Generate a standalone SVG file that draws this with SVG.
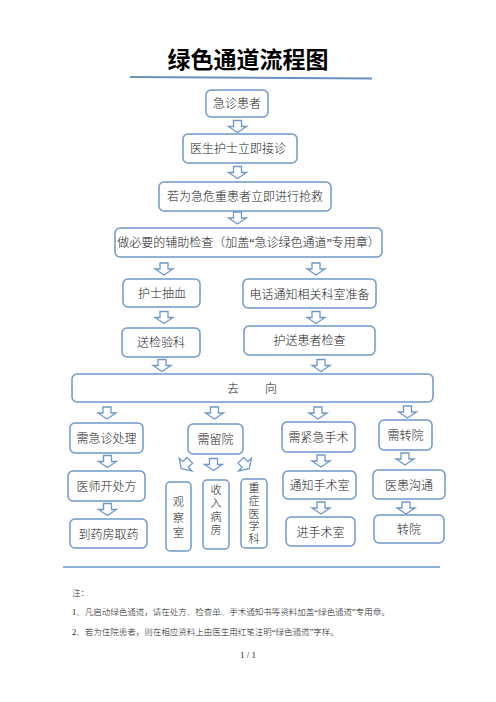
<svg xmlns="http://www.w3.org/2000/svg" xmlns:xlink="http://www.w3.org/1999/xlink" width="496" height="702" viewBox="0 0 496 702">
<style>
.bx{fill:#fff;stroke:#6f98c9;stroke-width:1.5}
.ar{fill:#fff;stroke:#6f98c9;stroke-width:1.3;stroke-linejoin:miter}
.t{font-family:"Liberation Serif","Noto Sans CJK SC",serif;font-size:12px;font-weight:300;fill:#222;text-anchor:middle;dominant-baseline:central}
.v{font-family:"Liberation Serif","Noto Sans CJK SC",serif;font-size:11px;font-weight:300;fill:#222;text-anchor:middle;dominant-baseline:central}
.n{font-family:"Liberation Serif","Noto Sans CJK SC",serif;font-size:8.5px;font-weight:300;fill:#222}
</style>
<defs>
<path id="ar" d="M-4,-6 H4 V0 H9 L0,6 L-9,0 H-4 Z"/>
</defs>
<rect width="496" height="702" fill="#fff"/>
<g id="title">
<text x="248" y="58" style="font-family:'Noto Sans CJK SC',sans-serif;font-size:23px;font-weight:bold;fill:#000;text-anchor:middle;dominant-baseline:central">绿色通道流程图</text>
<line x1="130" y1="77" x2="372" y2="78.5" stroke="#6b91c2" stroke-width="2"/>
</g>
<g id="connectors">
<use href="#ar" class="ar" transform="translate(237.5,126.5)"/>
<use href="#ar" class="ar" transform="translate(237.5,172.5)"/>
<use href="#ar" class="ar" transform="translate(237.5,218)"/>
<use href="#ar" class="ar" transform="translate(164,269)"/>
<use href="#ar" class="ar" transform="translate(316,269)"/>
<use href="#ar" class="ar" transform="translate(164,317.5)"/>
<use href="#ar" class="ar" transform="translate(316,317.5)"/>
<use href="#ar" class="ar" transform="translate(162,365.5)"/>
<use href="#ar" class="ar" transform="translate(321,365.5)"/>
<use href="#ar" class="ar" transform="translate(107,413)"/>
<use href="#ar" class="ar" transform="translate(214.5,413)"/>
<use href="#ar" class="ar" transform="translate(318,413)"/>
<use href="#ar" class="ar" transform="translate(407.5,412)"/>
<use href="#ar" class="ar" transform="translate(107.5,461.5)"/>
<use href="#ar" class="ar" transform="translate(107.5,509.5)"/>
<use href="#ar" class="ar" transform="translate(185.5,464.5) rotate(45)"/>
<use href="#ar" class="ar" transform="translate(213.5,464.5)"/>
<use href="#ar" class="ar" transform="translate(245,464.5) rotate(-45)"/>
<use href="#ar" class="ar" transform="translate(321,461)"/>
<use href="#ar" class="ar" transform="translate(321,508)"/>
<use href="#ar" class="ar" transform="translate(405,459)"/>
<use href="#ar" class="ar" transform="translate(406,508)"/>
</g>
<g id="n1"><rect class="bx" x="206" y="90" width="62" height="27" rx="5"/><text class="t" x="237" y="104">急诊患者</text></g>
<g id="n2"><rect class="bx" x="183" y="134" width="114" height="29" rx="5"/><text class="t" x="238" y="149">医生护士立即接诊</text></g>
<g id="n3"><rect class="bx" x="159" y="182" width="172" height="29" rx="5"/><text class="t" x="245" y="197">若为急危重患者立即进行抢救</text></g>
<g id="n4"><rect class="bx" x="115" y="228" width="267" height="29" rx="5"/><text class="t" x="248.5" y="243">做必要的辅助检查（加盖“急诊绿色通道”专用章）</text></g>
<g id="n5"><rect class="bx" x="123" y="279" width="77" height="28" rx="5"/><text class="t" x="162" y="294">护士抽血</text></g>
<g id="n6"><rect class="bx" x="243" y="279" width="133" height="29" rx="5"/><text class="t" x="309.5" y="294.5">电话通知相关科室准备</text></g>
<g id="n7"><rect class="bx" x="122" y="328" width="78" height="29" rx="5"/><text class="t" x="161" y="343">送检验科</text></g>
<g id="n8"><rect class="bx" x="244" y="326" width="131" height="29" rx="5"/><text class="t" x="309.5" y="341">护送患者检查</text></g>
<g id="n9"><rect class="bx" x="72" y="374" width="361" height="28" rx="5"/><text class="t" x="233" y="389">去</text><text class="t" x="271" y="389">向</text></g>
<g id="n10"><rect class="bx" x="70" y="423" width="73" height="30" rx="5"/><text class="t" x="106.5" y="439">需急诊处理</text></g>
<g id="n11"><rect class="bx" x="188" y="424" width="55" height="30" rx="5"/><text class="t" x="215.5" y="440">需留院</text></g>
<g id="n12"><rect class="bx" x="282" y="422" width="73" height="30" rx="5"/><text class="t" x="318.5" y="438">需紧急手术</text></g>
<g id="n13"><rect class="bx" x="379" y="420" width="53" height="30" rx="5"/><text class="t" x="405.5" y="436">需转院</text></g>
<g id="n14"><rect class="bx" x="68" y="471" width="77" height="30" rx="5"/><text class="t" x="106.5" y="487">医师开处方</text></g>
<g id="n15"><rect class="bx" x="70" y="519" width="77" height="29" rx="5"/><text class="t" x="108.5" y="535">到药房取药</text></g>
<g id="n16"><rect class="bx" x="166" y="482" width="25" height="69" rx="4"/><text class="v" x="178.5" y="502">观</text><text class="v" x="178.5" y="518">察</text><text class="v" x="178.5" y="533">室</text></g>
<g id="n17"><rect class="bx" x="203" y="480" width="26" height="69" rx="4"/><text class="v" x="216" y="490">收</text><text class="v" x="216" y="503">入</text><text class="v" x="216" y="516.5">病</text><text class="v" x="216" y="529.5">房</text></g>
<g id="n18"><rect class="bx" x="241" y="479" width="26" height="69" rx="4"/><text class="v" x="254" y="488">重</text><text class="v" x="254" y="501">症</text><text class="v" x="254" y="513.5">医</text><text class="v" x="254" y="526">学</text><text class="v" x="254" y="539">科</text></g>
<g id="n19"><rect class="bx" x="283" y="471" width="73" height="28" rx="5"/><text class="t" x="319.5" y="486">通知手术室</text></g>
<g id="n20"><rect class="bx" x="286" y="517" width="69" height="29" rx="5"/><text class="t" x="320.5" y="532.5">进手术室</text></g>
<g id="n21"><rect class="bx" x="373" y="470" width="72" height="29" rx="5"/><text class="t" x="409" y="485.5">医患沟通</text></g>
<g id="n22"><rect class="bx" x="374" y="515" width="70" height="28" rx="5"/><text class="t" x="409" y="530">转院</text></g>
<line x1="63" y1="567" x2="440" y2="567" stroke="#8eb1dc" stroke-width="2"/>
<g id="notes">
<text class="n" x="72" y="596">注：</text>
<text class="n" x="72" y="615">1、凡启动绿色通道，请在处方、检查单、手术通知书等资料加盖“绿色通道”专用章。</text>
<text class="n" x="72" y="635">2、若为住院患者，则在相应资料上由医生用红笔注明“绿色通道”字样。</text>
<text class="n" x="248" y="658" style="font-size:9px;text-anchor:middle">1 / 1</text>
</g>
</svg>
